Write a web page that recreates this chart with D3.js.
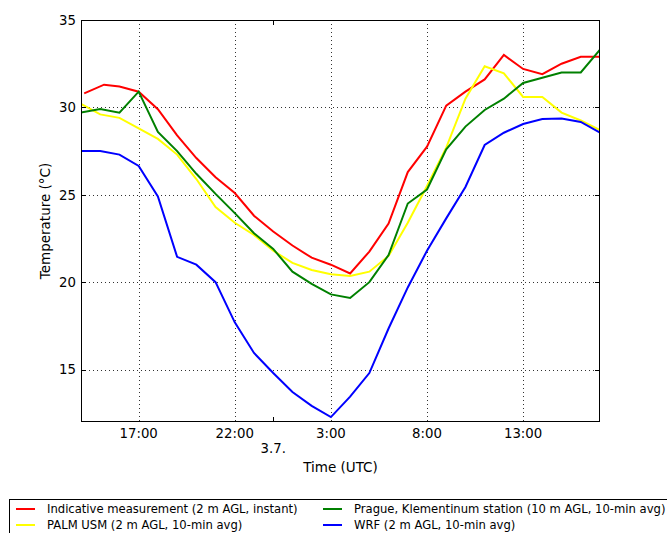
<!DOCTYPE html>
<html>
<head>
<meta charset="utf-8">
<script src="https://cdn.jsdelivr.net/npm/d3@7"></script>
<style>
  html, body { margin: 0; padding: 0; background: #fff; }
  svg { display: block; font-family: "DejaVu Sans", sans-serif; }
</style>
</head>
<body>
<svg id="chart" width="667" height="533"></svg>
<script>
// ---- data ----
const modelTimes = ["02 14:00","02 15:00","02 16:00","02 17:00","02 18:00","02 19:00","02 20:00","02 21:00",
  "02 22:00","02 23:00","03 00:00","03 01:00","03 02:00","03 03:00","03 04:00","03 05:00","03 06:00",
  "03 07:00","03 08:00","03 09:00","03 10:00","03 11:00","03 12:00","03 13:00","03 14:00","03 15:00",
  "03 16:00","03 17:00"];
const measTimes = ["02 14:10","02 15:12","02 16:00","02 17:00","02 18:00","02 19:00","02 20:00","02 21:00",
  "02 22:00","02 23:00","03 00:00","03 01:00","03 02:00","03 03:00","03 04:00","03 05:00","03 06:00",
  "03 07:00","03 08:00","03 09:00","03 10:00","03 11:00","03 12:00","03 13:00","03 14:00","03 15:00",
  "03 16:00","03 17:00"];
const indicative = [30.8, 31.3, 31.2, 30.9, 29.9, 28.4, 27.1, 26.0, 25.1, 23.8, 22.9, 22.1, 21.4, 21.0,
  20.5, 21.75, 23.35, 26.3, 27.75, 30.1, 30.9, 31.6, 33.0, 32.2, 31.9, 32.5, 32.9, 32.9];
const palmUsm = [30.2, 29.6, 29.4, 28.8, 28.2, 27.3, 25.9, 24.3, 23.4, 22.7, 21.8, 21.1, 20.7, 20.45,
  20.35, 20.6, 21.5, 23.4, 25.5, 27.7, 30.5, 32.35, 31.95, 30.6, 30.6, 29.7, 29.25, 28.7];
const klementinum = [29.7, 29.9, 29.7, 30.9, 28.6, 27.5, 26.2, 25.05, 23.95, 22.8, 21.9, 20.6, 19.9, 19.3,
  19.1, 20.0, 21.55, 24.5, 25.3, 27.6, 28.9, 29.85, 30.5, 31.4, 31.7, 32.0, 32.0, 33.3];
const wrf = [27.5, 27.5, 27.3, 26.65, 24.9, 21.45, 21.0, 20.0, 17.7, 15.95, 14.8, 13.72, 12.92, 12.28,
  13.45, 14.8, 17.35, 19.7, 21.8, 23.65, 25.45, 27.85, 28.55, 29.05, 29.33, 29.37, 29.17, 28.55];
const seriesNames = ["Indicative measurement (2 m AGL, instant)", "PALM USM (2 m AGL, 10-min avg)",
  "Prague, Klementinum station (10 m AGL, 10-min avg)", "WRF (2 m AGL, 10-min avg)"];
const seriesColors = ["#ff0000", "#ffff00", "#008000", "#0000ff"];
const xTickTimes = ["02 17:00", "02 22:00", "03 03:00", "03 08:00", "03 13:00"];
const dayTickTime = "03 00:00";
const dayTickLabel = "3.7.";
const yTicks = [15, 20, 25, 30, 35];
const xDomain = ["02 14:00", "03 17:00"];
const yDomain = [12, 35];

// ---- drawing ----
const parse = d3.utcParse("%d %H:%M");
const fmt = d3.utcFormat("%-H:%M");
const svg = d3.select("#chart");
const L = 81, R = 600, T = 20, B = 422;
const x = d3.scaleUtc().domain(xDomain.map(parse)).range([L, R]);
const y = d3.scaleLinear().domain(yDomain).range([B, T]);

const g = svg.append("g");

// grid
const gridX = xTickTimes.map(parse);
g.selectAll(".gx").data(gridX).enter().append("line")
  .attr("x1", d => Math.round(x(d)) + 0.5).attr("x2", d => Math.round(x(d)) + 0.5)
  .attr("y1", T).attr("y2", B)
  .attr("stroke", "#000").attr("stroke-width", 1).attr("stroke-dasharray", "1,3").attr("opacity", 0.8);
g.selectAll(".gy").data(yTicks.filter(v => v > yDomain[0] && v < yDomain[1])).enter().append("line")
  .attr("x1", L).attr("x2", R)
  .attr("y1", d => Math.round(y(d)) + 0.5).attr("y2", d => Math.round(y(d)) + 0.5)
  .attr("stroke", "#000").attr("stroke-width", 1).attr("stroke-dasharray", "1,3").attr("opacity", 0.8);

// lines
const series = [
  {t: measTimes, v: indicative},
  {t: modelTimes, v: palmUsm},
  {t: modelTimes, v: klementinum},
  {t: modelTimes, v: wrf}
];
const line = d3.line().x(d => x(d[0])).y(d => y(d[1]));
const clip = svg.append("clipPath").attr("id", "clip").append("rect")
  .attr("x", L).attr("y", T).attr("width", R - L).attr("height", B - T);
series.forEach((s, i) => {
  const pts = s.t.map((t, j) => [parse(t), s.v[j]]);
  g.append("path").datum(pts).attr("d", line)
    .attr("fill", "none").attr("stroke", seriesColors[i]).attr("stroke-width", 2)
    .attr("stroke-linejoin", "miter").attr("clip-path", "url(#clip)");
});

// frame
g.append("rect").attr("x", L + 0.5).attr("y", T + 0.5).attr("width", R - L - 1).attr("height", B - T - 1)
  .attr("fill", "none").attr("stroke", "#000").attr("stroke-width", 1);

// y ticks (inward, both sides) and labels
yTicks.forEach(v => {
  const yy = Math.round(y(v)) + 0.5;
  g.append("line").attr("x1", L).attr("x2", L + 5).attr("y1", yy).attr("y2", yy).attr("stroke", "#000");
  g.append("line").attr("x1", R - 5).attr("x2", R).attr("y1", yy).attr("y2", yy).attr("stroke", "#000");
  g.append("text").attr("x", 76).attr("y", y(v)).attr("dy", "0.36em").attr("text-anchor", "end")
    .attr("font-size", 13.3).text(v);
});

// x tick labels
gridX.forEach(d => {
  g.append("text").attr("x", x(d)).attr("y", 438).attr("text-anchor", "middle")
    .attr("font-size", 13.3).text(fmt(d));
});
// day tick
const dd = parse(dayTickTime);
const dx = Math.round(x(dd)) + 0.5;
g.append("line").attr("x1", dx).attr("x2", dx).attr("y1", B).attr("y2", B - 5).attr("stroke", "#000");
g.append("line").attr("x1", dx).attr("x2", dx).attr("y1", T).attr("y2", T + 5).attr("stroke", "#000");
g.append("text").attr("x", x(dd)).attr("y", 453).attr("text-anchor", "middle")
  .attr("font-size", 13.3).text(dayTickLabel);

// axis labels
g.append("text").attr("x", (L + R) / 2).attr("y", 472).attr("text-anchor", "middle")
  .attr("font-size", 13.5).text("Time (UTC)");
g.append("text").attr("transform", `translate(50,${(T + B) / 2}) rotate(-90)`)
  .attr("text-anchor", "middle").attr("font-size", 13.5).text("Temperature (°C)");

// legend
const lg = svg.append("g");
lg.append("rect").attr("x", 9.5).attr("y", 499.5).attr("width", 720).attr("height", 80)
  .attr("fill", "#fff").attr("stroke", "#000").attr("stroke-width", 1);
const legPos = [[16, 509], [16, 525], [323, 509], [323, 525]];
seriesNames.forEach((n, i) => {
  const [lx, ly] = legPos[i];
  lg.append("line").attr("x1", lx).attr("x2", lx + 19).attr("y1", ly).attr("y2", ly)
    .attr("stroke", seriesColors[i]).attr("stroke-width", 2);
  lg.append("text").attr("x", lx + 31).attr("y", ly).attr("dy", "0.36em")
    .attr("font-size", 11.6).text(n);
});
</script>
</body>
</html>
